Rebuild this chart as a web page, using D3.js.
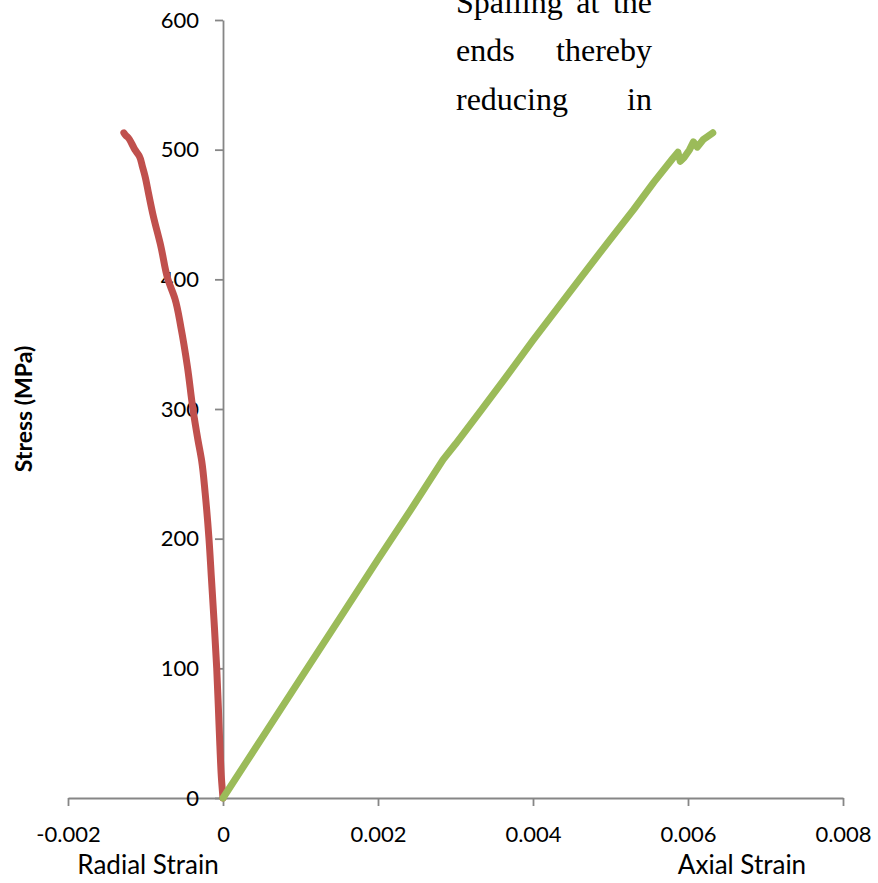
<!DOCTYPE html>
<html>
<head>
<meta charset="utf-8">
<script src="https://cdn.jsdelivr.net/npm/d3@7"></script>
<style>
  html, body { margin: 0; padding: 0; background: #fff; }
  svg { display: block; }
</style>
</head>
<body>
<div id="chart"></div>
<script>
// Stress–strain response: radial (lateral) strain plotted negative, axial strain positive
const radialStrain = [0, -0.00002, -0.00004, -0.00006, -0.000081, -0.000116, -0.00015, -0.000181,
  -0.00023, -0.000275, -0.000323, -0.000388, -0.00046, -0.000543, -0.00062, -0.000711,
  -0.0008, -0.000904, -0.00096, -0.001008, -0.00104, -0.00108, -0.001137, -0.00118,
  -0.00122, -0.001255, -0.001279];
const radialStress = [0, 15, 40, 70, 100, 137, 170, 200, 235, 260, 276, 300, 333, 363, 385, 400,
  425, 450, 466, 480, 487, 495, 500, 505, 509, 511, 513];

const axialStrain = [0, 0.0005, 0.001, 0.0015, 0.002, 0.00242, 0.00284, 0.0030, 0.00333, 0.00362,
  0.0040, 0.0046, 0.00496, 0.0053, 0.00556, 0.0058, 0.00587, 0.0059, 0.00595, 0.00602,
  0.00607, 0.00612, 0.0062, 0.00632];
const axialStress = [0, 46, 92, 138, 184, 222, 261, 273, 299, 322, 353, 400, 428, 454, 475, 493,
  498, 491, 494, 500, 506, 502, 508, 513];

const xTicks = [-0.002, 0, 0.002, 0.004, 0.006, 0.008];
const xTickLabels = ["-0.002", "0", "0.002", "0.004", "0.006", "0.008"];
const yTicks = [0, 100, 200, 300, 400, 500, 600];
const yTickLabels = ["0", "100", "200", "300", "400", "500", "600"];

const yTitle = "Stress (MPa)";
const radialTitle = "Radial Strain";
const axialTitle = "Axial Strain";
const overlayLines = [["Spalling", "at", "the"], ["ends", "thereby"], ["reducing", "in"]];

const W = 878, H = 883;
const svg = d3.select("#chart").append("svg")
  .attr("width", W).attr("height", H)
  .style("background", "#fff");

const x = d3.scaleLinear().domain([-0.002, 0.008]).range([68, 843]);
const y = d3.scaleLinear().domain([0, 600]).range([798, 20]);

const axisColor = "#868686";
const labelFont = "Lato, 'Open Sans', sans-serif";

// x axis along stress = 0
const xAxis = d3.axisBottom(x)
  .tickValues(xTicks)
  .tickFormat((d, i) => xTickLabels[i])
  .tickSizeInner(8).tickSizeOuter(0).tickPadding(20);
const gx = svg.append("g").attr("transform", `translate(0,${y(0)})`).call(xAxis);

// y axis along strain = 0
const yAxis = d3.axisLeft(y)
  .tickValues(yTicks)
  .tickFormat((d, i) => yTickLabels[i])
  .tickSizeInner(8).tickSizeOuter(0).tickPadding(16);
const gy = svg.append("g").attr("transform", `translate(${x(0)},0)`).call(yAxis);

[gx, gy].forEach(g => {
  g.select(".domain").attr("stroke", axisColor).attr("stroke-width", 1.8);
  g.selectAll(".tick line").attr("stroke", axisColor).attr("stroke-width", 1.8);
  g.selectAll(".tick text")
    .attr("fill", "#000")
    .style("font-family", labelFont)
    .style("font-size", "22px");
});

// curves
const radialLine = d3.line().x(d => x(d[0])).y(d => y(d[1])).curve(d3.curveMonotoneY);
const axialLine = d3.line().x(d => x(d[0])).y(d => y(d[1]));
svg.append("path")
  .datum(radialStrain.map((s, i) => [s, radialStress[i]]))
  .attr("d", radialLine)
  .attr("fill", "none")
  .attr("stroke", "#C0504D")
  .attr("stroke-width", 7)
  .attr("stroke-linecap", "round")
  .attr("stroke-linejoin", "round");
svg.append("path")
  .datum(axialStrain.map((s, i) => [s, axialStress[i]]))
  .attr("d", axialLine)
  .attr("fill", "none")
  .attr("stroke", "#9BBB59")
  .attr("stroke-width", 7)
  .attr("stroke-linecap", "round")
  .attr("stroke-linejoin", "round");

// axis titles
svg.append("text")
  .attr("transform", "translate(32,409) rotate(-90)")
  .attr("text-anchor", "middle")
  .style("font-family", labelFont)
  .style("font-weight", "bold")
  .style("font-size", "23px")
  .text(yTitle);
svg.append("text")
  .attr("x", 148).attr("y", 874)
  .attr("text-anchor", "middle")
  .style("font-family", labelFont)
  .style("font-size", "26px")
  .text(radialTitle);
svg.append("text")
  .attr("x", 742).attr("y", 874)
  .attr("text-anchor", "middle")
  .style("font-family", labelFont)
  .style("font-size", "26px")
  .text(axialTitle);

// justified body text running over the top of the plot
const textLeft = 456, textRight = 652;
const baselines = [13, 61, 110];
overlayLines.forEach((words, li) => {
  const g = svg.append("g");
  const nodes = words.map(w => g.append("text")
    .attr("y", baselines[li])
    .style("font-family", "'Liberation Serif', 'Times New Roman', serif")
    .style("font-size", "32px")
    .attr("fill", "#000")
    .text(w));
  const widths = nodes.map(n => n.node().getComputedTextLength());
  const gap = (textRight - textLeft - d3.sum(widths)) / (words.length - 1);
  let cx = textLeft;
  nodes.forEach((n, i) => { n.attr("x", cx); cx += widths[i] + gap; });
});
</script>
</body>
</html>
